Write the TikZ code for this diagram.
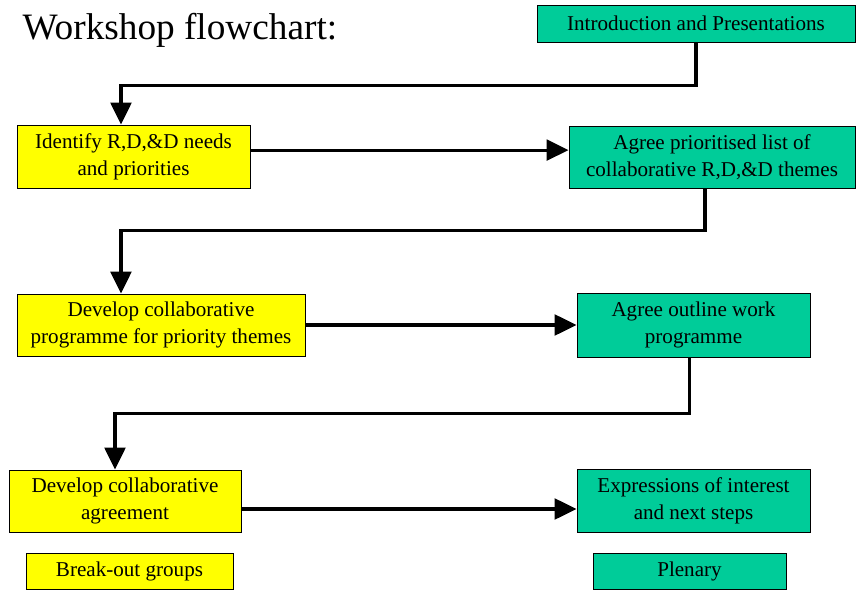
\documentclass[tikz,border=0pt]{standalone}
\usepackage{fontspec}
\setmainfont{Liberation Serif}
\usetikzlibrary{arrows.meta}
\definecolor{breakout}{HTML}{ffff00}
\definecolor{plenary}{HTML}{00cc99}
\tikzset{%
    >={Triangle[length=5.5mm,width=5.2mm]}
}

\begin{document}
\begin{tikzpicture}[x=0.025cm, y=-0.025cm, line width=2.2pt,
    every node/.style={font=\fontsize{15}{19}\selectfont, align=center},
    group/.style={draw=black, line width=0.6pt, fill=breakout, inner sep=0pt},
    plen/.style={draw=black, line width=0.6pt, fill=plenary, inner sep=0pt}]
  \useasboundingbox (0,0) rectangle (857,591);
  \node[anchor=base west, inner sep=0pt, font=\fontsize{26.5}{30}\selectfont] (title) at (21,40) {Workshop flowchart:};

  \node[plen, minimum width=7.95cm, minimum height=0.925cm] (intro) at (696,23.5) {Introduction and Presentations};

  \node[group, minimum width=5.825cm, minimum height=1.575cm] (ident) at (133.5,156.5) {Identify R,D,\&D needs\\and priorities};
  \node[plen, minimum width=7.15cm, minimum height=1.55cm] (prior) at (712,157) {Agree prioritised list of\\collaborative R,D,\&D themes};

  \node[group, minimum width=7.2cm, minimum height=1.55cm] (devprog) at (161,325) {Develop collaborative\\programme for priority themes};
  \node[plen, minimum width=5.825cm, minimum height=1.6cm] (outline) at (693.5,325) {Agree outline work\\programme};

  \node[group, minimum width=5.8cm, minimum height=1.55cm] (devagr) at (125,501) {Develop collaborative\\agreement};
  \node[plen, minimum width=5.825cm, minimum height=1.575cm] (expr) at (693.5,500.5) {Expressions of interest\\and next steps};

  \node[group, minimum width=5.175cm, minimum height=0.9cm] (grp) at (129.5,571) {Break-out groups};
  \node[plen, minimum width=4.825cm, minimum height=0.9cm] (plenary) at (689.5,571) {Plenary};

  \draw[->] (intro.south) -- ++(0,43) -| ([xshift=-0.3125cm]ident.north);
  \draw[->] ([yshift=0.16cm]ident.east) -- ([yshift=0.16cm]ident.east -| prior.west);

  \draw[->] ([xshift=-0.175cm]prior.south) -- ++(0,42) -| ([xshift=-1cm]devprog.north);
  \draw[->] (devprog.east) -- (devprog.east -| outline.west);

  \draw[->] ([xshift=-0.09cm]outline.south) -- ++(0,56) -| ([xshift=-0.25cm]devagr.north);
  \draw[->] ([yshift=-0.2cm]devagr.east) -- ([yshift=-0.2cm]devagr.east -| expr.west);
\end{tikzpicture}
\end{document}
